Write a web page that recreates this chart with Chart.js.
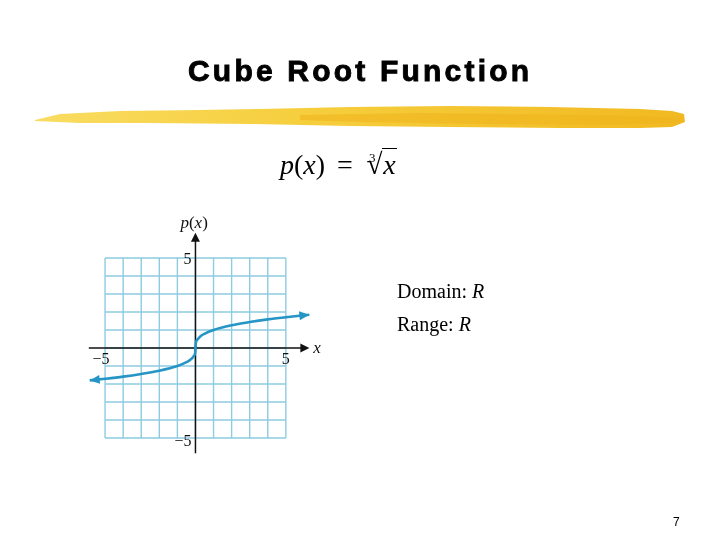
<!DOCTYPE html>
<html>
<head>
<meta charset="utf-8">
<script src="https://cdn.jsdelivr.net/npm/chart.js@4.4.0/dist/chart.umd.min.js"></script>
<style>
body { margin: 0; background: #fff; }
#slide { position: relative; width: 720px; height: 540px; overflow: hidden; background: #fff; }
#chart { position: absolute; left: 0; top: 0; }
.t { position: absolute; white-space: nowrap; line-height: 1; color: #000; }
#title { left: 188px; top: 54px; font: bold 30px "Liberation Sans", Arial, sans-serif; letter-spacing: 3.2px; -webkit-text-stroke: 0.9px #000; }
#formula { left: 280px; top: 148px; font: 28px "Liberation Serif", "Times New Roman", serif; }
#formula .eq { margin: 0 12px 0 12px; }
#formula .idx { font-size: 13px; position: relative; top: -12px; margin-left: 4px; margin-right: -9px; }
#formula .rad { font-size: 29px; }
#formula .under { border-top: 1.5px solid #000; padding: 0 1px; }
#domain { left: 397px; top: 280px; font: 20px "Liberation Serif", "Times New Roman", serif; }
#range { left: 397px; top: 313px; font: 20px "Liberation Serif", "Times New Roman", serif; }
#page { left: 673px; top: 515px; font: 12px "Liberation Sans", Arial, sans-serif; }
#marker { position: absolute; left: 0; top: 0; }
</style>
</head>
<body>
<div id="slide">
  <svg id="marker" width="720" height="140">
    <defs>
      <linearGradient id="hl" x1="0" x2="1" y1="0" y2="0">
        <stop offset="0" stop-color="#f9dc62"/>
        <stop offset="0.4" stop-color="#f6cf3e"/>
        <stop offset="1" stop-color="#f1b921"/>
      </linearGradient>
    </defs>
    <polygon fill="url(#hl)" points="35,120 60,114 120,111 200,110 260,109 350,107 450,106 550,107 640,109 672,111 684,114 685,122 672,127 640,128 560,128 450,127 350,126 250,124 150,123 80,123 35,121"/>
    <polygon fill="#efb21c" opacity="0.55" points="300,115 420,113 520,114 640,116 680,118 680,123 600,125 480,124 360,122 300,120"/>
  </svg>
  <canvas id="chart" width="720" height="540"></canvas>
  <div class="t" id="title">Cube Root Function</div>
  <div class="t" id="formula"><i>p</i>(<i>x</i>)<span class="eq">=</span><span class="idx">3</span><span class="rad">√</span><span class="under"><i>x</i></span></div>
  <div class="t" id="domain">Domain: <i>R</i></div>
  <div class="t" id="range">Range: <i>R</i></div>
  <div class="t" id="page">7</div>
</div>
<script>
const curveX = [-5.85, -5, -4, -3, -2, -1, -0.5, -0.25, -0.1, -0.02, 0, 0.02, 0.1, 0.25, 0.5, 1, 2, 3, 4, 5, 6.3];
const curveY = [-1.8, -1.71, -1.59, -1.44, -1.26, -1.0, -0.79, -0.63, -0.46, -0.27, 0, 0.27, 0.46, 0.63, 0.79, 1.0, 1.26, 1.44, 1.59, 1.71, 1.85];

const gridValues = [-5, -4, -3, -2, -1, 0, 1, 2, 3, 4, 5];
const xTickValues = [-5, 5];
const xTickLabels = ['\u22125', '5'];
const yTickValues = [5, -5];
const yTickLabels = ['5', '\u22125'];

// axis extents (data units)
const xAxisFrom = -5.9, xAxisTo = 6.3;
const yAxisFrom = -5.85, yAxisTo = 6.4;

const gridColor = '#8dcbe2';
const curveColor = '#2595c6';

function arrowHead(ctx, tipX, tipY, fromX, fromY, len, half) {
    const a = Math.atan2(tipY - fromY, tipX - fromX);
    ctx.beginPath();
    ctx.moveTo(tipX, tipY);
    ctx.lineTo(tipX - len * Math.cos(a) + half * Math.sin(a), tipY - len * Math.sin(a) - half * Math.cos(a));
    ctx.lineTo(tipX - len * Math.cos(a) - half * Math.sin(a), tipY - len * Math.sin(a) + half * Math.cos(a));
    ctx.closePath();
    ctx.fill();
}

const axesPlugin = {
    id: 'axesPlugin',
    beforeDatasetsDraw(chart) {
        const ctx = chart.ctx;
        const x = chart.scales.x, y = chart.scales.y;
        const gl = x.getPixelForValue(-5), gr = x.getPixelForValue(5);
        const gt = y.getPixelForValue(5), gb = y.getPixelForValue(-5);
        ctx.save();
        ctx.strokeStyle = gridColor;
        ctx.lineWidth = 1.4;
        gridValues.forEach(function (v) {
            const px = x.getPixelForValue(v);
            ctx.beginPath(); ctx.moveTo(px, gt); ctx.lineTo(px, gb); ctx.stroke();
            const py = y.getPixelForValue(v);
            ctx.beginPath(); ctx.moveTo(gl, py); ctx.lineTo(gr, py); ctx.stroke();
        });

        // axes
        const ox = x.getPixelForValue(0), oy = y.getPixelForValue(0);
        const xa = x.getPixelForValue(xAxisFrom), xb = x.getPixelForValue(xAxisTo);
        const ya = y.getPixelForValue(yAxisFrom), yb = y.getPixelForValue(yAxisTo);
        ctx.strokeStyle = '#111';
        ctx.fillStyle = '#111';
        ctx.lineWidth = 1.5;
        ctx.beginPath(); ctx.moveTo(xa, oy); ctx.lineTo(xb - 6, oy); ctx.stroke();
        ctx.beginPath(); ctx.moveTo(ox, ya); ctx.lineTo(ox, yb + 6); ctx.stroke();
        arrowHead(ctx, xb, oy, xa, oy, 9, 4.5);
        arrowHead(ctx, ox, yb, ox, ya, 9, 4.5);

        // tick labels
        ctx.font = '16px "Liberation Serif", "Times New Roman", serif';
        ctx.textBaseline = 'alphabetic';
        ctx.textAlign = 'center';
        xTickValues.forEach(function (v, i) {
            ctx.fillText(xTickLabels[i], x.getPixelForValue(v) - (v < 0 ? 4 : 0), oy + 16);
        });
        ctx.textAlign = 'right';
        yTickValues.forEach(function (v, i) {
            ctx.fillText(yTickLabels[i], ox - 4, y.getPixelForValue(v) + (v > 0 ? 6 : 8));
        });

        // axis names
        ctx.textAlign = 'left';
        ctx.font = 'italic 17px "Liberation Serif", "Times New Roman", serif';
        ctx.fillText('x', xb + 4, oy + 5);
        let lx = ox - 15;
        const ly = yb - 5;
        const parts = [['p', true], ['(', false], ['x', true], [')', false]];
        parts.forEach(function (p) {
            ctx.font = (p[1] ? 'italic ' : '') + '17px "Liberation Serif", "Times New Roman", serif';
            ctx.fillText(p[0], lx, ly);
            lx += ctx.measureText(p[0]).width;
        });
        ctx.restore();
    },
    afterDatasetsDraw(chart) {
        const ctx = chart.ctx;
        const x = chart.scales.x, y = chart.scales.y;
        const n = curveX.length;
        ctx.save();
        ctx.fillStyle = curveColor;
        arrowHead(ctx, x.getPixelForValue(curveX[0]), y.getPixelForValue(curveY[0]),
            x.getPixelForValue(curveX[1]), y.getPixelForValue(curveY[1]), 10, 4.5);
        arrowHead(ctx, x.getPixelForValue(curveX[n - 1]), y.getPixelForValue(curveY[n - 1]),
            x.getPixelForValue(curveX[n - 2]), y.getPixelForValue(curveY[n - 2]), 10, 4.5);
        ctx.restore();
    }
};

new Chart(document.getElementById('chart'), {
    type: 'scatter',
    data: {
        datasets: [{
            data: curveX.map(function (v, i) { return { x: v, y: curveY[i] }; }),
            showLine: true,
            borderColor: curveColor,
            borderWidth: 2.6,
            pointRadius: 0,
            cubicInterpolationMode: 'monotone',
            clip: false
        }]
    },
    options: {
        responsive: false,
        animation: false,
        events: [],
        layout: { padding: { left: 87, right: 398, top: 222, bottom: 84 } },
        scales: {
            x: { type: 'linear', min: -6, max: 7, display: false },
            y: { type: 'linear', min: -6, max: 7, display: false }
        },
        plugins: { legend: { display: false }, tooltip: { enabled: false } }
    },
    plugins: [axesPlugin]
});
</script>
</body>
</html>
